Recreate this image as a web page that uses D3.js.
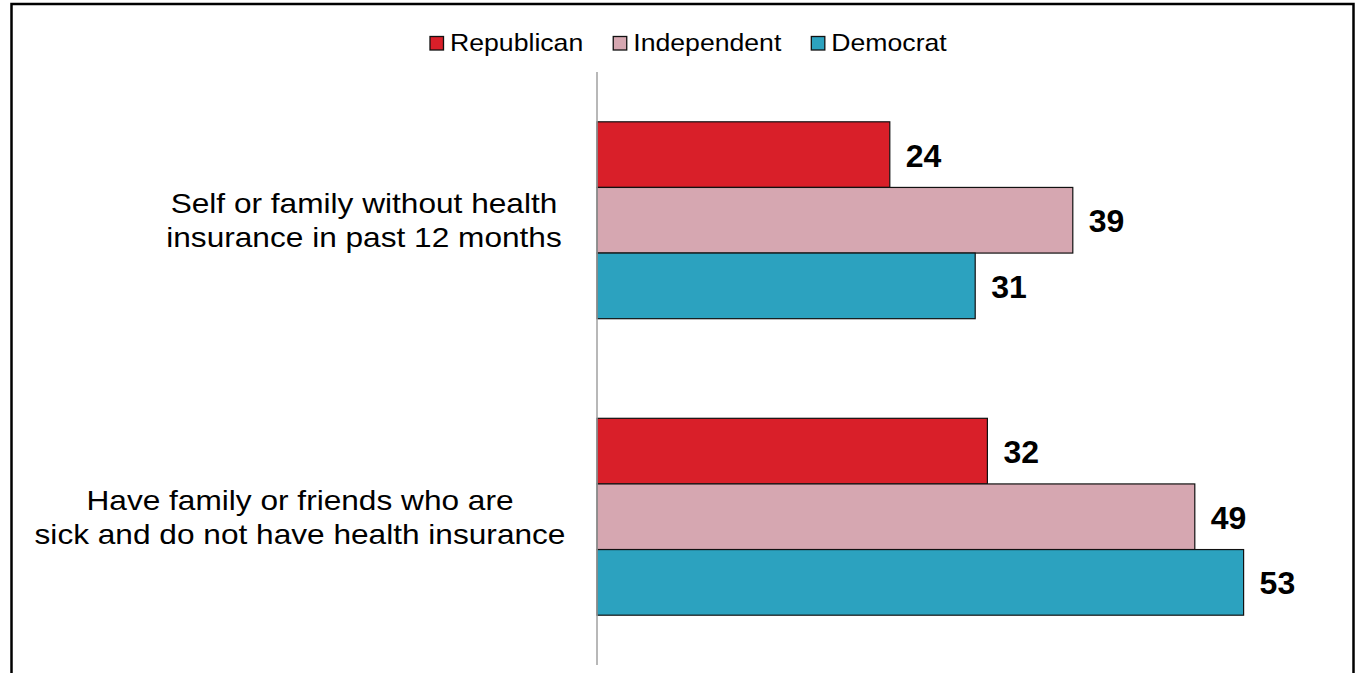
<!DOCTYPE html>
<html>
<head>
<meta charset="utf-8">
<script src="https://cdn.jsdelivr.net/npm/d3@7"></script>
<style>
html, body { margin: 0; padding: 0; background: #fff; }
svg { display: block; }
text { font-family: "Liberation Sans", Arial, sans-serif; fill: #000; }
</style>
</head>
<body>
<svg id="chart" width="1359" height="673"></svg>
<script>
const categories = [
  ["Self or family without health", "insurance in past 12 months"],
  ["Have family or friends who are", "sick and do not have health insurance"]
];
const seriesNames = ["Republican", "Independent", "Democrat"];
const seriesColors = ["#d91f29", "#d6a7b1", "#2ca2bf"];
const republican = [24, 32];
const independent = [39, 49];
const democrat = [31, 53];
const seriesValues = [republican, independent, democrat];

const svg = d3.select("#chart");
const stretch = 1.13; // horizontal text stretch seen in the reference

// frame
svg.append("rect")
  .attr("x", 11.5).attr("y", 4)
  .attr("width", 1342).attr("height", 700)
  .attr("fill", "none").attr("stroke", "#000").attr("stroke-width", 2.5);

const x0 = 597;
const x = d3.scaleLinear().domain([0, 60]).range([x0, x0 + 732]);
const y = d3.scaleBand().domain(d3.range(categories.length))
  .range([72, 665]).paddingInner(0.336).paddingOuter(0.168);
const ySub = d3.scaleBand().domain(d3.range(seriesNames.length))
  .range([0, y.bandwidth()]);

const groups = svg.selectAll("g.grp").data(categories).join("g")
  .attr("class", "grp")
  .attr("transform", (d, i) => `translate(0,${y(i)})`);

groups.each(function(cat, ci) {
  const g = d3.select(this);
  seriesNames.forEach((s, si) => {
    const v = seriesValues[si][ci];
    g.append("rect")
      .attr("x", x(0))
      .attr("y", ySub(si))
      .attr("width", x(v) - x(0))
      .attr("height", ySub.bandwidth())
      .attr("fill", seriesColors[si])
      .attr("stroke", "#111").attr("stroke-width", 1.2);
    g.append("text")
      .attr("x", x(v) + 16)
      .attr("y", ySub(si) + ySub.bandwidth() / 2 + 12)
      .attr("font-size", 32).attr("font-weight", "bold")
      .text(v);
  });
});

// axis line
svg.append("line")
  .attr("x1", x(0)).attr("x2", x(0))
  .attr("y1", y.range()[0]).attr("y2", y.range()[1])
  .attr("stroke", "#a0a0a0").attr("stroke-width", 1.5);

// category labels: lines centered within block; block centre per category
const labelCenters = [364, 300];
const lineGap = 34;
categories.forEach((lines, ci) => {
  const g = svg.append("g");
  const cy = y(ci) + y.bandwidth() / 2;
  const cx = labelCenters[ci];
  const b1 = cy - 7 - (lines.length - 2) * lineGap / 2;
  lines.forEach((l, li) => {
    g.append("text")
      .attr("font-size", 28).attr("text-anchor", "middle")
      .attr("transform", `translate(${cx},${b1 + li * lineGap}) scale(${stretch},1)`)
      .text(l);
  });
});

// legend
const legend = svg.append("g");
let lx = 430;
seriesNames.forEach((s, si) => {
  legend.append("rect")
    .attr("x", lx).attr("y", 36.5)
    .attr("width", 13.5).attr("height", 13.5)
    .attr("fill", seriesColors[si]).attr("stroke", "#111").attr("stroke-width", 1.3);
  const t = legend.append("text")
    .attr("font-size", 24)
    .attr("transform", `translate(${lx + 20},51) scale(1.11,1)`)
    .text(s);
  const w = t.node().getComputedTextLength() * 1.11;
  lx = lx + 20 + w + 30;
});
</script>
</body>
</html>
